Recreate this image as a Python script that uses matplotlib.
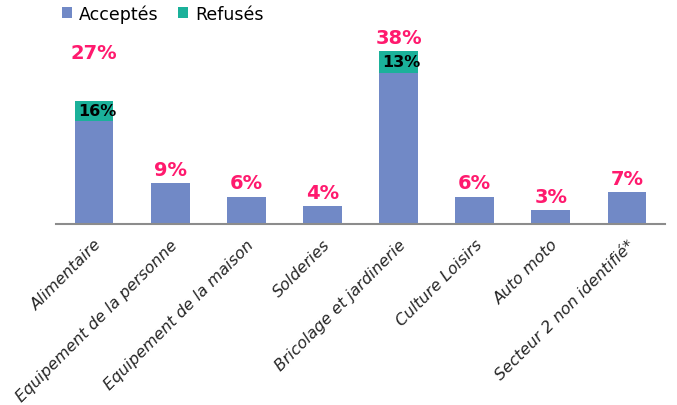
import numpy as np
import matplotlib.pyplot as plt

categories = ["Alimentaire", "Equipement de la personne", "Equipement de la maison",
              "Solderies", "Bricolage et jardinerie", "Culture Loisirs",
              "Auto moto", "Secteur 2 non identifié*"]
acceptes = [22.7, 9, 6, 4, 33.1, 6, 3, 7]
refuses = [4.3, 0, 0, 0, 4.9, 0, 0, 0]
total_labels = ["27%", "9%", "6%", "4%", "38%", "6%", "3%", "7%"]
refuses_labels = ["16%", "", "", "", "13%", "", "", ""]

blue = "#7189C6"
teal = "#1BB19A"
pink = "#FF1A6E"

plt.rcParams['font.family'] = ['DejaVu Sans']

fig = plt.figure(figsize=(6.77, 4.06), dpi=100)
ax = fig.add_axes([56 / 677, 181 / 406, 609 / 677, 186 / 406])

x = np.arange(len(categories))
ax.bar(x, acceptes, width=0.51, color=blue, label="Acceptés")
ax.bar(x, refuses, width=0.51, bottom=acceptes, color=teal, label="Refusés")

# pink total labels above the bars (Alimentaire one sits higher in the original)
offsets = [28, 3, 3, 3, 3, 3, 3, 3]
for i in range(len(categories)):
    top = acceptes[i] + refuses[i]
    ax.annotate(total_labels[i], (x[i], top), xytext=(0, offsets[i]),
                textcoords="offset points", ha="center", va="bottom",
                color=pink, fontsize=14, fontweight="bold")
    if refuses_labels[i]:
        ax.text(x[i] + 0.04, acceptes[i] + refuses[i] / 2, refuses_labels[i],
                ha="center", va="center", color="black", fontsize=11.5,
                fontweight="bold")

ax.set_xlim(-0.5, 7.5)
ax.set_ylim(0, 40.8)
ax.set_yticks([])
for s in ["top", "right", "left"]:
    ax.spines[s].set_visible(False)
ax.spines["bottom"].set_color("#8C8C8C")
ax.spines["bottom"].set_linewidth(1.5)
ax.set_xticks(x)
ax.set_xticklabels(categories, rotation=45, ha="right", rotation_mode="anchor",
                   fontsize=11.5, fontstyle="italic", color="#262626")
ax.tick_params(axis="x", length=0, pad=9)

fig.legend(loc="upper left", bbox_to_anchor=(46 / 677, 1.025), ncol=2, frameon=False,
           fontsize=12.5, handlelength=0.6, handleheight=0.6, handletextpad=0.4,
           columnspacing=1.1)

fig.savefig("out.png", dpi=100)
